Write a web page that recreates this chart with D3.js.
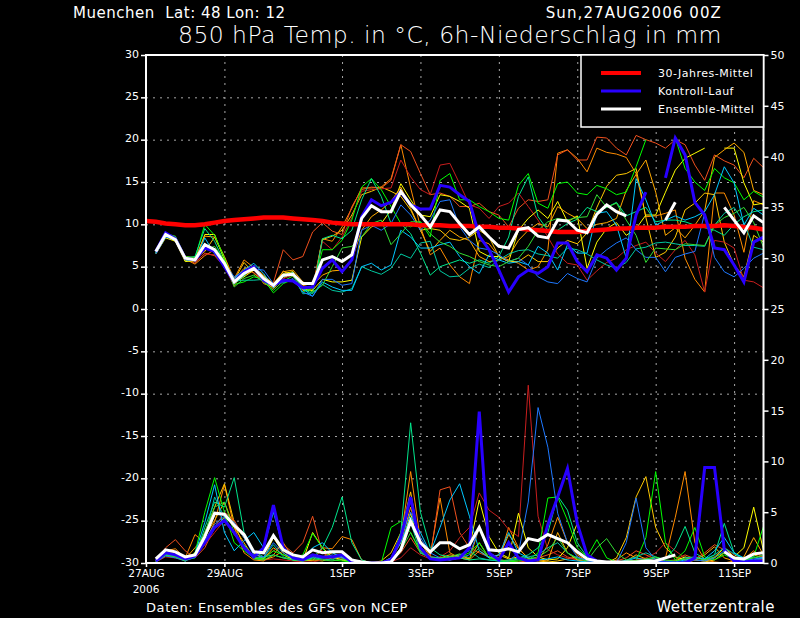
<!DOCTYPE html>
<html>
<head>
<meta charset="utf-8">
<script src="https://cdn.jsdelivr.net/npm/d3@7"></script>
<style>
  body { margin: 0; background: #000; }
  text { font-family: "DejaVu Sans", sans-serif; fill: #fff; white-space: pre; }
</style>
</head>
<body>
<div id="chart"></div>
<script>
// Stunden nach 27AUG2006 00Z (6-stuendlich)
var stunden = [6,12,18,24,30,36,42,48,54,60,66,72,78,84,90,96,102,108,114,120,
  126,132,138,144,150,156,162,168,174,180,186,192,198,204,210,216,222,228,234,240,
  246,252,258,264,270,276,282,288,294,300,306,312,318,324,330,336,342,348,354,360,
  366,372,378];
var klimaStunden = [0].concat(stunden);

var tickStunden = [0, 48, 120, 168, 216, 264, 312, 360];
var tickNamen = ["27AUG", "29AUG", "1SEP", "3SEP", "5SEP", "7SEP", "9SEP", "11SEP"];
var tempTicks = [-30,-25,-20,-15,-10,-5,0,5,10,15,20,25,30];
var niederTicks = [0,5,10,15,20,25,30,35,40,45,50];

// 30-Jahres-Mittel (ab 0h)
var klimaMittel = [10.4,10.3,10.1,10.0,9.9,9.9,10.0,10.2,10.4,10.5,
  10.6,10.7,10.8,10.8,10.8,10.7,10.6,10.5,10.4,10.2,
  10.1,10.0,10.0,10.0,10.0,10.0,10.0,10.0,9.9,9.9,
  9.9,9.8,9.8,9.8,9.7,9.7,9.6,9.6,9.5,9.4,
  9.3,9.2,9.1,9.1,9.1,9.2,9.3,9.4,9.5,9.5,
  9.6,9.6,9.6,9.7,9.7,9.7,9.8,9.8,9.8,9.9,
  9.8,9.7,9.6,9.4];

// Kontroll-Lauf
var kontrollT = [6.8,9.0,8.3,6.0,5.8,7.2,6.8,5.0,3.2,4.4,5.0,3.4,2.8,3.4,3.3,2.5,2.6,4.8,5.8,
  4.4,5.8,10.9,12.9,12.2,12.6,13.8,12.3,11.8,11.8,14.6,14.4,13.5,12.7,8.6,7.0,4.6,2.0,3.8,4.6,4.2,5.0,
  7.8,7.8,5.6,4.4,6.4,6.0,4.6,6.0,11.1,13.8,null,15.5,20.2,18.2,12.6,11.1,7.2,7.0,5.2,3.2,7.9,8.5];
var kontrollN = [0.2,1.0,0.8,0.4,0.7,2.0,3.5,4.2,3.0,1.5,
  0.6,1.5,5.7,1.5,0.5,0.3,0.8,0.6,0.6,0.8,
  0.1,0.0,0.0,0.0,0.3,2.5,6.5,1.5,0.4,0.3,
  0.4,0.5,1.5,14.9,1.0,0.3,2.0,0.5,0.2,0.3,
  3.8,6.5,9.3,3.9,0.8,0.2,0.0,0.0,0.0,0.0,
  0.0,0.0,0.0,0.0,0.0,0.5,9.4,9.4,1.3,0.2,
  0.1,0.2,0.2];

// Ensemble-Mittel
var mittelT = [6.8,8.8,8.2,6.0,5.8,7.6,7.0,5.4,3.2,4.2,4.8,3.6,2.8,4.0,4.1,3.0,3.0,5.8,6.2,
  5.6,6.4,10.7,12.2,11.5,11.5,13.9,12.3,11.1,9.7,11.7,11.5,10.1,8.8,9.7,8.5,7.4,7.2,9.4,9.6,8.6,8.4,
  10.5,10.4,9.3,9.0,11.2,12.3,11.5,11.0,null,null,null,10.5,12.6,null,null,null,null,12.0,10.5,9.0,11.0,10.2];
var mittelN = [0.4,1.3,1.1,0.6,0.8,2.6,4.9,4.8,3.7,2.8,
  1.1,1.0,2.7,1.3,0.8,0.6,1.3,1.0,1.1,1.1,
  0.3,0.1,0.0,0.0,0.1,1.3,4.1,2.0,1.1,2.0,
  2.0,1.4,1.8,3.5,1.3,1.2,1.4,1.1,2.4,2.2,
  2.8,2.4,2.0,1.1,0.4,0.2,0.1,0.1,0.1,0.1,
  0.2,0.2,0.5,0.8,null,null,null,null,1.1,0.5,
  0.4,0.9,1.0];

// Ensemble-Laeufe: Temperatur (T) und Niederschlag (N)
var lauf01T = [6.6,8.6,8.1,5.9,5.3,6.3,7.0,5.6,3.6,5.8,4.9,3.0,2.6,4.5,3.8,2.8,2.5,8.3,8.0,
  9.7,11.9,14.3,14.3,14.4,15.4,19.4,14.3,9.7,6.4,7.2,5.2,3.8,3.0,8.1,7.7,6.2,5.8,5.4,4.6,5.0,7.0,
  18.4,18.8,17.8,16.2,19.0,18.5,18.3,17.9,16.0,10.9,11.0,11.3,11.7,6.0,3.5,2.0,13.7,13.7,11.1,6.7,12.8,12.3];
var lauf01N = [0.2,1.2,1.4,0.5,2.8,2.0,4.0,7.7,3.5,1.0, 0.3,0.2,0.8,2.0,0.5,0.3,0.2,1.5,1.4,2.6,
  2.3,0.3,0.0,0.0,0.5,2.5,9.0,2.2,0.8,6.4, 1.0,0.5,0.3,1.2,0.6,0.3,3.5,1.5,0.4,0.2,
  1.8,4.5,2.0,0.8,0.2,0.0,0.0,0.3,1.0,0.5, 0.2,0.1,0.5,4.5,9.0,2.0,0.3,0.1,0.0,0.2, 0.4,1.2,0.5];

var lauf02T = [6.9,8.7,8.0,5.7,5.9,6.8,8.5,6.0,3.4,5.5,4.2,3.4,2.4,3.6,4.4,2.2,2.2,8.2,8.6,
  9.3,11.1,13.5,13.9,14.4,13.9,13.3,11.7,9.3,9.5,9.3,8.3,8.1,8.5,9.3,8.5,6.2,5.6,5.6,6.4,5.6,5.6,
  7.2,8.1,7.7,9.0,12.0,14.5,15.8,16.0,16.6,10.8,6.1,6.7,8.5,11.7,12.5,13.7,13.5,7.9,5.2,3.8,8.7,7.9];
var lauf02N = [0.3,0.8,0.6,0.4,1.0,3.0,5.5,7.8,4.0,1.5, 0.5,0.4,1.5,0.8,0.3,0.2,0.3,0.2,0.5,0.6,
  0.1,0.0,0.0,0.2,1.0,3.0,7.0,1.5,0.5,0.3, 0.6,0.8,0.4,2.0,0.5,0.8,0.4,0.6,0.3,0.2,
  0.1,0.2,0.4,0.6,0.2,0.1,0.0,0.5,2.5,6.5, 8.5,3.5,1.5,0.6,0.3,0.0,0.1,0.3,1.0,0.4, 0.2,0.8,0.5];

var lauf03T = [6.7,8.9,8.3,6.1,5.4,6.6,6.3,5.0,2.7,4.6,4.3,3.2,3.1,7.0,5.8,6.2,9.1,10.2,9.2,
  8.8,12.1,14.1,14.4,14.3,15.2,19.4,18.6,16.0,13.5,13.7,13.3,12.1,12.1,12.5,11.5,11.1,9.7,11.9,12.9,12.7,12.9,
  18.2,18.8,17.6,17.6,20.3,20.2,19.0,18.2,20.5,20.0,19.6,19.0,20.0,19.4,17.0,15.2,18.2,17.5,17.0,15.5,17.8,16.7];
var lauf03N = [0.2,1.5,2.3,1.2,0.5,1.5,3.5,5.0,4.2,2.5, 1.0,0.5,1.2,1.8,1.0,2.0,4.6,1.0,0.5,0.3,
  0.2,0.0,0.0,0.0,0.3,1.0,2.5,1.0,0.5,7.2, 7.5,3.0,1.5,1.0,0.6,0.3,0.2,0.1,0.2,0.5,
  0.8,1.2,0.6,0.3,0.1,0.0,0.0,0.2,0.5,1.2, 0.8,0.4,0.2,0.3,0.8,0.4,1.0,1.8,1.3,0.6, 0.3,0.2,0.4];

var lauf04T = [6.7,8.7,8.2,6.2,5.6,6.5,6.4,5.2,2.9,4.0,4.6,3.4,2.7,3.6,4.0,2.6,2.4,8.0,7.0,
  8.5,10.8,13.9,14.1,14.2,14.3,17.6,15.6,14.1,13.5,17.0,17.2,14.8,12.3,11.9,10.7,12.1,12.5,13.7,12.1,10.5,8.5,
  6.5,5.4,5.2,3.4,4.5,5.5,6.0,7.0,7.5,7.9,6.6,5.6,7.0,8.1,6.4,2.0,8.1,7.9,7.2,3.4,3.2,2.5];
var lauf04N = [0.1,0.6,0.5,0.3,0.6,1.8,3.0,4.2,2.8,1.6, 0.6,0.3,0.4,0.3,0.2,0.1,0.1,0.3,0.6,0.4,
  0.1,0.0,0.0,0.0,0.1,0.5,1.5,0.8,0.4,0.6, 1.2,2.5,3.5,6.9,5.2,4.5,3.3,2.6,17.5,4.6,
  1.3,0.8,0.5,0.3,0.1,0.0,0.0,0.0,0.1,0.3, 0.5,1.0,2.0,1.2,0.5,0.3,0.2,0.6,1.5,0.8, 0.4,1.0,0.6];

var lauf05T = [6.5,8.4,8.0,5.6,5.7,8.8,8.8,5.8,3.0,3.8,4.6,3.9,3.0,4.2,4.4,2.4,2.2,3.5,3.2,
  3.2,3.4,8.5,9.7,10.1,11.7,14.8,12.9,11.1,10.9,13.5,13.3,12.7,11.9,6.8,6.2,6.2,5.6,9.3,10.7,11.7,10.7,
  12.7,10.3,11.0,4.8,7.9,9.5,10.2,8.7,9.5,11.1,11.1,13.8,16.4,17.8,18.4,19.0,null,19.0,19.0,14.9,12.3,12.5];
var lauf05N = [0.2,1.0,0.8,0.3,0.8,2.0,3.5,4.5,3.8,2.5, 1.0,0.4,2.5,1.0,0.3,0.2,3.0,1.5,0.6,0.3,
  0.1,0.0,0.0,0.0,0.2,1.5,4.9,1.2,0.5,0.4, 0.3,0.5,1.5,6.2,2.6,1.0,0.5,4.9,1.5,0.6,
  0.3,0.4,1.5,3.9,0.8,0.1,0.0,0.0,0.1,0.2, 0.3,0.1,0.0,0.2,0.6,0.3,0.2,0.5,1.5,0.6, 1.5,5.5,1.2];

var lauf06T = [6.9,8.8,8.4,6.2,6.0,8.6,8.5,6.2,3.5,4.8,5.0,4.0,3.0,4.4,4.6,3.2,2.8,4.0,4.5,
  4.6,5.8,9.3,10.9,11.7,12.7,14.4,11.9,9.3,6.8,8.1,9.3,8.5,8.1,6.2,5.6,5.8,6.2,8.1,9.3,10.1,9.7,
  12.1,11.3,10.7,9.5,10.0,10.2,10.7,14.0,15.9,17.6,13.8,8.7,9.6,8.4,9.9,11.6,17.9,18.8,19.6,18.5,14.0,13.5];
var lauf06N = [0.3,0.9,0.7,0.4,1.5,2.6,4.2,6.0,3.5,2.0, 0.5,0.3,0.6,1.2,0.5,0.4,0.8,0.6,1.0,0.5,
  0.2,0.0,0.0,0.0,0.3,2.0,5.5,2.0,0.6,0.5, 0.8,0.6,0.4,3.5,1.0,0.5,2.8,1.4,0.5,0.3,
  0.2,3.0,1.0,0.3,0.1,0.0,0.0,0.0,0.2,0.8, 0.4,0.2,0.1,0.0,0.1,0.3,0.8,1.6,0.5,0.2, 0.6,2.5,0.8];

var lauf07T = [6.6,8.5,8.5,5.9,6.0,10.0,8.7,6.0,2.9,3.2,3.8,3.5,1.9,3.0,3.5,2.0,2.5,7.0,7.0,
  8.1,10.5,14.4,15.4,14.1,12.1,10.1,9.7,10.3,8.5,15.2,16.0,12.9,12.9,12.1,11.5,10.7,10.5,14.6,16.0,12.5,11.9,
  14.8,15.0,13.7,13.5,14.6,14.2,13.5,13.8,16.8,20.0,null,null,20.2,16.6,15.0,14.0,16.6,15.5,14.9,12.9,13.9,13.2];
var lauf07N = [0.2,0.7,0.6,0.2,1.0,5.0,8.4,5.0,2.0,1.2, 0.5,0.4,1.2,0.8,0.5,0.8,2.9,1.5,0.3,0.2,
  0.1,0.0,0.0,0.0,3.5,4.1,3.0,1.0,0.5,0.3, 0.4,0.6,1.0,2.0,0.5,0.2,0.1,0.2,0.3,1.0,
  6.4,6.5,4.2,1.5,0.6,2.3,0.5,0.1,0.0,0.2, 2.5,9.0,2.0,0.3,1.2,3.5,0.6,0.3,0.8,0.4, 0.2,0.6,3.6];

var lauf08T = [6.7,8.6,8.3,6.0,6.2,9.5,8.0,5.5,3.0,3.9,5.2,3.7,2.6,3.8,4.2,2.4,1.8,8.3,8.7,
  8.3,9.3,12.9,15.4,13.3,10.1,10.1,8.9,6.6,4.0,5.0,5.4,5.8,5.4,5.8,5.4,6.2,8.5,13.3,15.6,10.9,9.3,
  9.3,10.1,10.6,12.0,11.5,12.0,12.6,11.0,11.5,12.0,10.3,10.5,10.5,10.3,9.9,9.6,9.3,8.7,10.0,10.9,11.5,11.7];
var lauf08N = [0.1,0.9,0.8,0.3,0.5,3.5,6.0,5.5,8.4,3.0, 1.2,0.6,0.8,0.5,0.3,0.2,0.5,1.5,3.5,6.5,
  2.0,0.3,0.0,0.0,0.2,3.0,13.8,5.0,1.5,0.8, 0.6,0.5,0.3,0.4,0.3,0.2,0.3,0.5,0.8,1.5,
  3.0,6.6,5.2,2.0,0.6,0.2,0.0,0.0,0.0,0.1, 0.3,0.5,0.4,1.5,3.6,1.0,0.4,0.8,3.9,1.0, 0.4,0.6,0.4];

var lauf09T = [6.8,8.7,8.4,6.1,5.9,7.8,6.7,5.3,3.3,3.4,3.4,3.5,2.9,4.1,4.0,1.8,1.9,2.9,2.2,
  2.0,2.4,5.0,4.5,4.1,4.8,6.5,6.0,7.8,8.0,4.5,3.8,3.9,4.8,5.3,4.9,5.8,6.5,6.9,7.0,6.5,6.3,
  6.0,7.2,7.0,6.5,5.8,5.2,4.8,5.5,7.1,7.3,7.8,7.9,7.7,7.5,7.5,7.4,9.9,11.3,12.0,10.2,7.3,7.0];
var lauf09N = [0.3,0.8,0.6,0.3,0.7,2.5,6.5,4.5,2.8,1.8, 0.6,0.5,1.8,0.6,0.3,0.3,0.5,0.4,0.3,0.8,
  0.3,0.0,0.0,0.0,0.2,1.5,4.0,1.0,0.6,0.5, 0.3,0.8,1.2,0.5,0.3,0.2,0.2,0.4,0.6,0.8,
  1.5,2.0,1.0,0.5,0.3,0.1,0.0,0.0,0.3,0.6, 1.0,0.6,0.2,0.1,0.5,0.6,0.3,0.8,1.5,0.9, 0.3,0.2,0.5];

var lauf10T = [6.6,8.6,8.1,5.8,5.7,8.4,6.5,5.1,3.6,4.6,5.4,4.2,2.5,3.9,4.3,2.4,1.5,3.2,2.6,
  2.2,2.2,5.0,5.4,4.6,5.2,9.3,8.5,7.2,7.2,7.6,7.9,6.2,5.0,4.2,6.4,5.8,5.4,5.6,5.2,7.4,6.6,
  4.6,7.6,6.6,6.6,11.3,11.5,9.9,6.0,15.4,12.9,9.9,10.5,11.0,10.5,10.9,11.5,13.5,16.8,14.9,9.9,11.9,11.1];
var lauf10N = [0.2,0.9,0.7,0.2,0.9,4.0,7.7,3.0,1.2,2.2, 3.0,1.5,5.0,1.5,0.5,0.4,1.5,2.0,1.0,0.6,
  0.2,0.0,0.0,0.0,0.5,2.0,4.5,3.0,1.0,3.5, 6.2,7.8,4.6,1.2,0.5,0.8,3.0,1.0,0.5,0.3,
  0.4,0.6,0.3,0.2,0.1,0.0,0.0,0.0,0.2,0.5, 0.3,0.2,0.1,0.1,0.3,0.5,0.4,1.2,2.5,1.0, 0.5,0.3,0.6];

var lauf11T = [6.5,8.5,8.2,5.9,5.8,7.7,6.9,5.4,3.8,4.5,4.7,4.6,3.0,3.1,3.6,2.0,1.5,3.5,3.5,
  2.8,3.0,9.3,9.9,9.3,10.1,12.3,11.1,9.3,10.5,12.7,12.9,9.7,8.1,7.2,7.0,6.4,5.6,6.0,5.2,3.8,3.2,
  3.0,4.2,3.6,3.2,6.0,7.0,7.8,8.4,7.0,6.1,6.1,4.4,6.1,6.5,6.8,11.3,6.1,4.4,3.8,4.8,6.0,6.6];
var lauf11N = [0.1,0.7,0.5,0.2,0.6,2.2,3.8,4.6,4.0,2.5, 0.8,0.6,2.0,1.0,0.4,0.3,0.6,0.5,0.8,0.5,
  0.2,0.0,0.0,0.0,0.5,2.5,5.0,2.5,1.0,0.5, 0.3,0.5,0.8,3.5,0.8,0.3,0.2,1.0,6.0,15.3,
  11.4,4.9,2.0,0.6,0.2,0.1,0.0,0.0,2.0,6.4, 1.5,0.3,0.1,0.0,0.2,0.3,0.2,0.5,1.2,0.6, 0.2,0.4,0.5];

var lauf12T = [6.9,8.9,8.6,6.2,6.1,7.0,7.4,5.7,2.6,3.6,4.0,3.2,2.2,3.3,3.9,2.6,2.0,2.8,5.0,
  7.2,7.4,8.5,10.1,10.5,7.6,8.9,10.3,10.3,8.9,7.9,7.4,6.6,6.2,5.6,5.2,5.0,5.6,6.0,7.4,9.3,10.3,
  10.7,10.5,10.8,10.9,13.5,12.0,12.5,10.5,8.7,5.5,7.2,7.1,7.0,7.7,7.6,7.5,9.9,10.8,11.3,12.0,10.2,7.3];
var lauf12N = [0.2,0.8,0.6,0.2,0.8,3.0,5.5,6.0,3.0,1.5, 0.4,0.3,0.8,0.5,0.3,0.2,0.4,0.3,0.2,0.4,
  0.1,0.0,0.0,0.0,0.3,1.2,3.0,1.2,0.4,0.5, 0.6,0.9,0.5,1.5,0.6,0.3,0.2,0.3,0.4,0.6,
  1.2,2.5,1.0,0.4,0.2,1.5,2.4,1.0,0.3,0.2, 0.4,0.6,0.3,0.2,0.4,0.5,0.3,0.6,1.0,0.4, 0.3,0.5,0.8];

var laufFarben = ["#ff8c00", "#ffc800", "#f0501e", "#c81e1e", "#ffff00", "#ffaa00",
                  "#00ff00", "#00e68c", "#00c8a0", "#00c8ff", "#1e78ff", "#32dc32"];

var mitglieder = [
  [lauf01T, lauf01N], [lauf02T, lauf02N], [lauf03T, lauf03N], [lauf04T, lauf04N],
  [lauf05T, lauf05N], [lauf06T, lauf06N], [lauf07T, lauf07N], [lauf08T, lauf08N],
  [lauf09T, lauf09N], [lauf10T, lauf10N], [lauf11T, lauf11N], [lauf12T, lauf12N]
].map(function(m, i) { return {t: m[0], n: m[1], farbe: laufFarben[i]}; });

// --- Zeichnung
var links = 146, rechts = 763.5, oben = 55, unten = 563;

var svg = d3.select("#chart").append("svg")
    .attr("width", 800).attr("height", 618)
    .style("background", "#000");

var x = d3.scaleLinear().domain([0, 378]).range([links, rechts]);
var yT = d3.scaleLinear().domain([-30, 30]).range([unten, oben]);
var yN = d3.scaleLinear().domain([0, 50]).range([unten, oben]);

svg.append("clipPath").attr("id", "plot")
  .append("rect").attr("x", links).attr("y", oben)
    .attr("width", rechts - links).attr("height", unten - oben);

// Gitter
svg.append("g")
    .attr("transform", "translate(" + links + ",0)")
    .call(d3.axisLeft(yT).tickValues(tempTicks.slice(1, -1)).tickSize(-(rechts - links)).tickFormat(""))
    .call(g => g.select(".domain").remove())
    .call(g => g.selectAll("line").attr("stroke", "#a8a8a8").attr("stroke-dasharray", "2,5"));
svg.append("g")
    .attr("transform", "translate(0," + oben + ")")
    .call(d3.axisTop(x).tickValues(tickStunden.slice(1)).tickSize(-(unten - oben)).tickFormat(""))
    .call(g => g.select(".domain").remove())
    .call(g => g.selectAll("line").attr("stroke", "#a8a8a8").attr("stroke-dasharray", "2,5"));

var tempLinie = d3.line()
    .defined(d => d[1] != null)
    .x(d => x(d[0])).y(d => yT(d[1]));
var niederLinie = d3.line()
    .defined(d => d[1] != null)
    .x(d => x(d[0])).y(d => yN(d[1]));

var linien = svg.append("g").attr("clip-path", "url(#plot)");

// Ensemble-Laeufe
mitglieder.forEach(function(m) {
  linien.append("path").datum(d3.zip(stunden, m.n))
      .attr("fill", "none").attr("stroke", m.farbe).attr("stroke-width", 1)
      .attr("d", niederLinie);
  linien.append("path").datum(d3.zip(stunden, m.t))
      .attr("fill", "none").attr("stroke", m.farbe).attr("stroke-width", 1)
      .attr("d", tempLinie);
});

// 30-Jahres-Mittel
linien.append("path").datum(d3.zip(klimaStunden, klimaMittel))
    .attr("fill", "none").attr("stroke", "#ff0000").attr("stroke-width", 4.5)
    .attr("d", tempLinie);

// Kontroll-Lauf
linien.append("path").datum(d3.zip(stunden, kontrollN))
    .attr("fill", "none").attr("stroke", "#2800ff").attr("stroke-width", 3)
    .attr("d", niederLinie);
linien.append("path").datum(d3.zip(stunden, kontrollT))
    .attr("fill", "none").attr("stroke", "#2800ff").attr("stroke-width", 3)
    .attr("d", tempLinie);

// Ensemble-Mittel
linien.append("path").datum(d3.zip(stunden, mittelN))
    .attr("fill", "none").attr("stroke", "#ffffff").attr("stroke-width", 3)
    .attr("d", niederLinie);
linien.append("path").datum(d3.zip(stunden, mittelT))
    .attr("fill", "none").attr("stroke", "#ffffff").attr("stroke-width", 3)
    .attr("d", tempLinie);

// Achsen
function achsenStil(g) {
  g.select(".domain").remove();
  g.selectAll("line").attr("stroke", "#fff").attr("stroke-width", 1.5);
  g.selectAll("text").attr("fill", "#fff").style("font-size", "11px")
    .style("font-family", "'DejaVu Sans', sans-serif");
}
svg.append("g").attr("transform", "translate(" + links + ",0)")
    .call(d3.axisLeft(yT).tickValues(tempTicks).tickSize(5).tickPadding(2).tickFormat(d => d < 0 ? "-" + (-d) : d))
    .call(achsenStil)
    .call(g => g.selectAll(".tick text").attr("dy", "0.2em"));
svg.append("g").attr("transform", "translate(" + rechts + ",0)")
    .call(d3.axisRight(yN).tickValues(niederTicks).tickSize(5).tickPadding(2))
    .call(achsenStil);
svg.append("g").attr("transform", "translate(0," + unten + ")")
    .call(d3.axisBottom(x).tickValues(tickStunden).tickSize(4).tickPadding(3)
      .tickFormat((d, i) => tickNamen[i]))
    .call(achsenStil)
    .call(g => g.selectAll(".tick text").style("font-size", "10.5px"));
svg.append("text").attr("x", x(0)).attr("y", 593).attr("text-anchor", "middle")
    .style("font-size", "10.5px").text("2006");

// Rahmen
svg.append("rect").attr("x", links).attr("y", oben)
    .attr("width", rechts - links).attr("height", unten - oben)
    .attr("fill", "none").attr("stroke", "#fff").attr("stroke-width", 2);

// Legende
var legende = svg.append("g");
legende.append("rect").attr("x", 581).attr("y", oben)
    .attr("width", rechts - 581).attr("height", 72)
    .attr("fill", "#000").attr("stroke", "#fff").attr("stroke-width", 1.5);
[["30-Jahres-Mittel", "#ff0000", 4], ["Kontroll-Lauf", "#2800ff", 3], ["Ensemble-Mittel", "#ffffff", 3]]
  .forEach(function(e, i) {
    var yy = 73 + i * 18;
    legende.append("line").attr("x1", 601).attr("x2", 641).attr("y1", yy).attr("y2", yy)
        .attr("stroke", e[1]).attr("stroke-width", e[2]);
    legende.append("text").attr("x", 658).attr("y", yy + 4)
        .style("font-size", "11px").style("letter-spacing", "0.5px").text(e[0]);
  });

// Titel
svg.append("text").attr("x", 73).attr("y", 18).style("font-size", "15px").style("letter-spacing", "0.5px")
    .text("Muenchen  Lat: 48 Lon: 12");
svg.append("text").attr("x", 722).attr("y", 18).attr("text-anchor", "end").style("font-size", "15px")
    .style("letter-spacing", "1.1px").text("Sun,27AUG2006 00Z");
svg.append("text").attr("x", 178).attr("y", 43).style("font-size", "23.5px").style("font-weight", "200")
    .style("letter-spacing", "0.45px").text("850 hPa Temp. in °C, 6h-Niederschlag in mm");
svg.append("text").attr("x", 146).attr("y", 612).style("font-size", "13px").style("letter-spacing", "0.6px")
    .text("Daten: Ensembles des GFS von NCEP");
svg.append("text").attr("x", 775).attr("y", 612).attr("text-anchor", "end").style("font-size", "15px")
    .style("letter-spacing", "0.5px").text("Wetterzentrale");
</script>
</body>
</html>
